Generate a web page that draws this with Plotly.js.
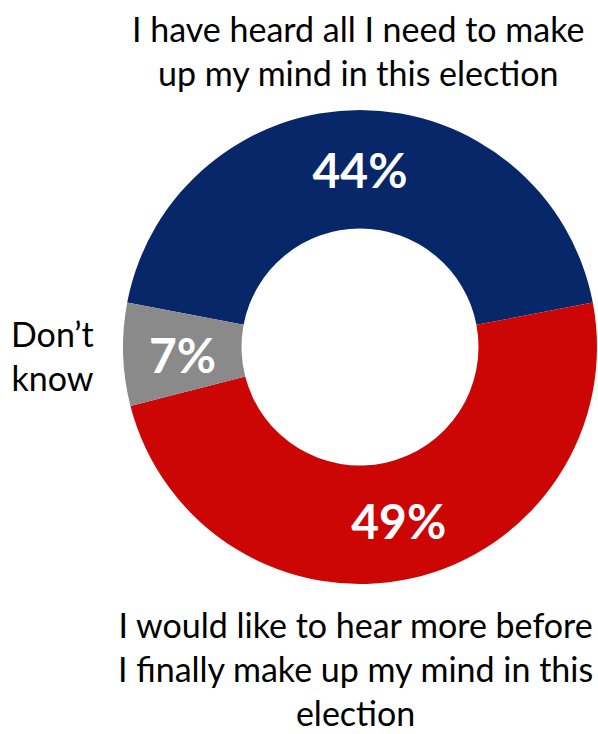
<!DOCTYPE html>
<html>
<head>
<meta charset="utf-8">
<script src="https://cdn.plot.ly/plotly-3.0.1.min.js"></script>
<style>html,body{margin:0;padding:0;background:#fff;}#chart{width:598px;height:734px;}</style>
</head>
<body>
<div id="chart"></div>
<script>
const categories = [
  "I have heard all I need to make<br>up my mind in this election",
  "I would like to hear more before<br>I finally make up my mind in this<br>election",
  "Don’t<br>know"
];
const values = [44, 49, 7];
const colors = ["#072769", "#CC0605", "#8A8A8A"];

const W = 598, H = 734;
const ROT = -79.2, HOLE = 0.5;
const dom = {x: [123 / W, 597 / W], y: [1 - 584 / H, 1 - 110 / H]};

// slices whose percent text is drawn by the pie itself vs. as a centred annotation
const total = values.reduce((a, b) => a + b, 0);
const smallIdx = values.map((v, i) => (v / total < 0.1 ? i : -1)).filter(i => i >= 0);

const trace = {
  type: "pie",
  labels: categories,
  values: values,
  sort: false,
  direction: "clockwise",
  rotation: ROT,
  hole: HOLE,
  marker: {colors: colors, line: {width: 0}},
  texttemplate: values.map((v, i) => smallIdx.includes(i) ? " " : "<b>%{value}%</b>"),
  textposition: "inside",
  insidetextorientation: "horizontal",
  textfont: {family: "Lato, 'Open Sans', sans-serif", size: 48, color: "#ffffff"},
  hoverinfo: "none",
  showlegend: false,
  domain: dom
};

const labelFont = {family: "Lato, 'Open Sans', sans-serif", size: 34, color: "#000000"};
const annotations = [
  {text: categories[0], x: 358 / W, y: 1 - 50 / H, xanchor: "center", yanchor: "middle"},
  {text: categories[1], x: 355 / W, y: 1 - 668 / H, xanchor: "center", yanchor: "middle"},
  {text: categories[2], x: 52 / W, y: 1 - 355 / H, xanchor: "center", yanchor: "middle"}
].map(a => Object.assign({xref: "paper", yref: "paper", showarrow: false, align: "center", font: labelFont}, a));

// percent labels for the small slices, placed at the slice's mid-angle on the ring's mid radius
const cxPx = (dom.x[0] + dom.x[1]) / 2 * W;
const cyPx = (1 - (dom.y[0] + dom.y[1]) / 2) * H;
const Rpx = Math.min((dom.x[1] - dom.x[0]) * W, (dom.y[1] - dom.y[0]) * H) / 2;
let cum = 0;
values.forEach((v, i) => {
  const start = ROT + cum / total * 360;
  cum += v;
  if (!smallIdx.includes(i)) return;
  const mid = (start + v / total * 180) * Math.PI / 180;
  const r = Rpx * (1 + HOLE) / 2;
  const px = cxPx + r * Math.sin(mid);
  const py = cyPx - r * Math.cos(mid);
  annotations.push({
    xref: "paper", yref: "paper", showarrow: false,
    x: px / W, y: 1 - py / H, xanchor: "center", yanchor: "middle", yshift: -2,
    text: "<b>" + v + "%</b>",
    font: {family: "Lato, 'Open Sans', sans-serif", size: 48, color: "#ffffff"}
  });
});

const layout = {
  width: W, height: H,
  margin: {l: 0, r: 0, t: 0, b: 0},
  paper_bgcolor: "#ffffff",
  plot_bgcolor: "#ffffff",
  annotations: annotations
};

Plotly.newPlot("chart", [trace], layout, {displayModeBar: false, staticPlot: true});
</script>
</body>
</html>
